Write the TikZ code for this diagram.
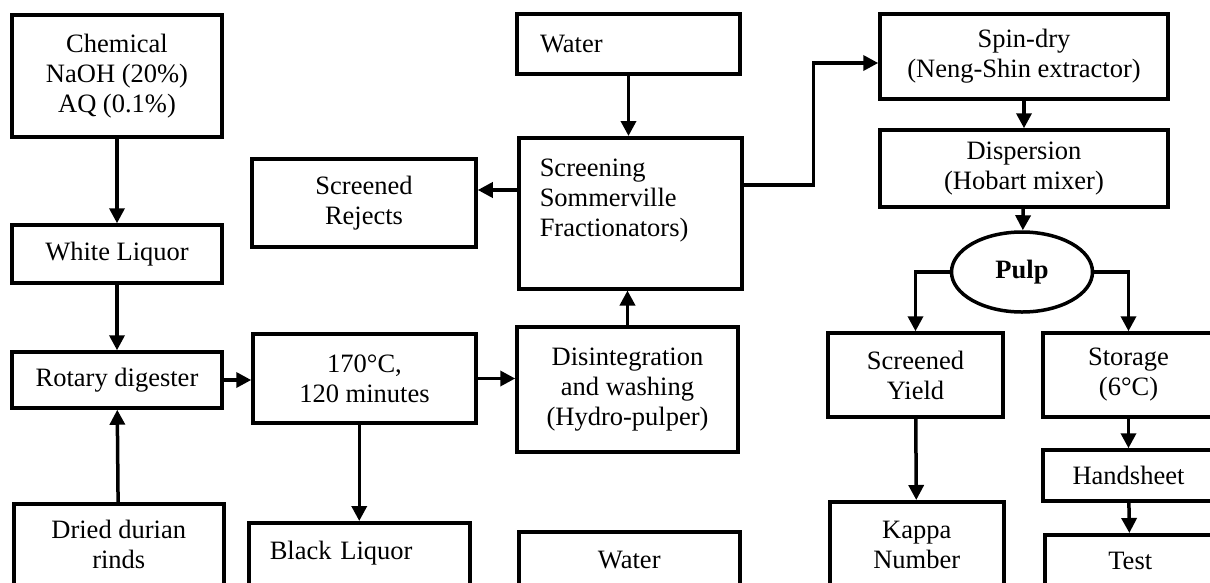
\documentclass[tikz,border=0pt]{standalone}
\usepackage{fontspec}
\setmainfont{Liberation Serif}
\usetikzlibrary{arrows.meta,shapes.geometric}
\tikzset{>={Triangle[length=15pt,width=15pt]}}
\tikzset{
  box/.style={draw,line width=3.5pt,align=center,inner sep=4pt,font=\fontsize{26.5}{30}\selectfont},
  lowbox/.style={box,anchor=north west,inner ysep=0pt,text depth=80pt},
}

\begin{document}
\begin{tikzpicture}[x=1pt,y=-1pt,line width=3.5pt]
        \useasboundingbox (0,0) rectangle (1210,582);
        \clip (0,0) rectangle (1210,582);

        \node[box,minimum width=210pt,minimum height=122pt] (chem) at (117,76) {Chemical\\NaOH (20\%)\\AQ (0.1\%)};
        \node[box,minimum width=210pt,minimum height=58pt] (white) at (117,254) {White Liquor};
        \node[box,minimum width=210pt,minimum height=56pt] (rotary) at (117,380) {Rotary digester};
        \node[lowbox,minimum width=210pt,text height=65pt] (dried) at (12,502) {Dried durian\\rinds};

        \node[box,minimum width=224pt,minimum height=88pt] (rejects) at (364,203) {Screened\\Rejects};
        \node[box,minimum width=223pt,minimum height=89pt] (temp) at (364.5,378.5) {170°C,\\120 minutes};
        \node[lowbox,align=left,inner xsep=21pt,text width=179pt,text height=37pt] (black) at (247,521) {Black Liquor};

        \node[box,align=left,inner xsep=23pt,text width=177pt,minimum height=60pt] (water) at (628.5,44) {Water};
        \node[lowbox,align=left,inner xsep=21pt,text width=181pt,text height=39pt,text depth=112pt] (screen) at (517,136) {Screening\\Sommerville\\Fractionators)};
        \node[box,minimum width=221pt,minimum height=125pt] (disint) at (627.5,389.5) {Disintegration\\and washing\\(Hydro-pulper)};
        \node[lowbox,minimum width=221pt,text height=37pt] (water2) at (517,530) {Water};

        \node[box,minimum width=288pt,minimum height=85pt] (spin) at (1024,56.5) {Spin-dry\\(Neng-Shin extractor)};
        \node[box,minimum width=288pt,minimum height=77pt] (disp) at (1024,168.5) {Dispersion\\(Hobart mixer)};
        \node[draw,ellipse,line width=3.5pt,minimum width=141pt,minimum height=80pt,font=\fontsize{26.5}{30}\selectfont\bfseries] (pulp) at (1022,272) {Pulp};
        \node[box,minimum width=175pt,minimum height=84pt] (yield) at (915.5,375) {Screened\\Yield};
        \node[lowbox,minimum width=174pt,text height=67pt] (kappa) at (828,500) {Kappa\\Number};
        \node[box,minimum width=171pt,minimum height=84pt] (storage) at (1128.5,375) {Storage\\(6°C)};
        \node[box,minimum width=171pt,minimum height=51pt] (hand) at (1128.5,475.5) {Handsheet};
        \node[lowbox,minimum width=171pt,text height=35pt] (test) at (1043,533) {Test};

        \draw[->] (chem) -- (white);
        \draw[->] (white) -- (rotary);
        \draw[->] (dried) -- (rotary);
        \draw[->] (rotary.east) -- (rotary.east -| temp.west);
        \draw[->] (temp.south -| black.north) -- (black.north);
        \draw[->] (temp.east) -- (temp.east -| disint.west);
        \draw[->] (disint.north) -- (disint.north |- screen.south);
        \draw[->] (water.south) -- (water.south |- screen.north);
        \coordinate (rj) at ([yshift=13pt]rejects.east);
        \draw[->] (rj -| screen.west) -- (rj);
        \draw[->] ([yshift=28.5pt]screen.east) -- ++(70,0) |- ([yshift=-6.5pt]spin.west);
        \draw[->] (spin) -- (disp);
        \draw[->] (disp) -- (pulp);
        \draw[->] (pulp.west) -| (yield.north);
        \draw[->] (pulp.east) -| (storage.north);
        \draw[->] (yield) -- (kappa);
        \draw[->] (storage) -- (hand);
        \draw[->] (hand) -- (test);
    \end{tikzpicture}
\end{document}
